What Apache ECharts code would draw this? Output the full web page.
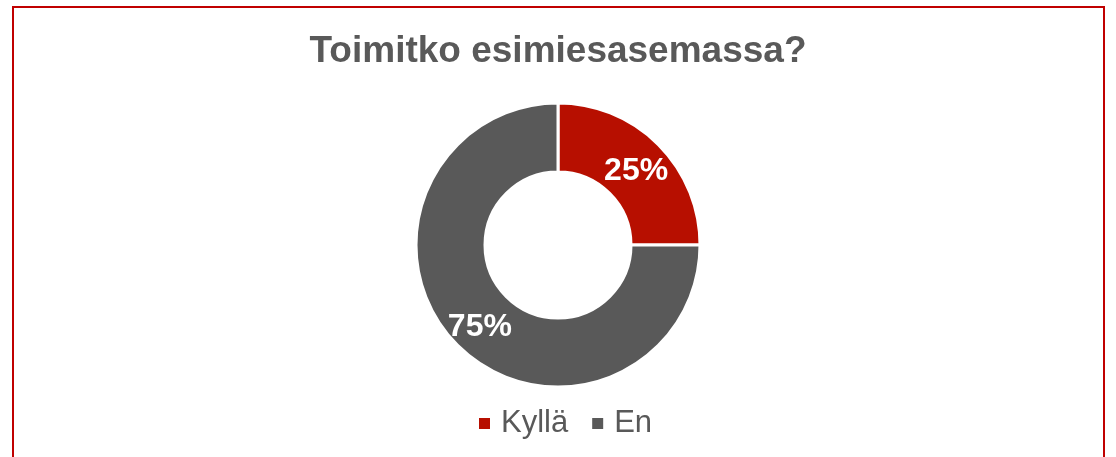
<!DOCTYPE html>
<html>
<head>
<meta charset="utf-8">
<script src="https://cdn.jsdelivr.net/npm/echarts@6/dist/echarts.min.js"></script>
<style>
    html, body { margin: 0; padding: 0; background: #fff; }
    #wrap { position: relative; width: 1116px; height: 457px; overflow: hidden; }
    #chart { position: absolute; left: 0; top: 0; width: 1116px; height: 457px; }
    .frame {
        position: absolute; left: 12px; top: 6px; width: 1089px; height: 470px;
        border: 2px solid #c00000; border-bottom: none; pointer-events: none;
    }
</style>
</head>
<body>
<div id="wrap">
    <div id="chart"></div>
    <div class="frame"></div>
</div>
<script>
const title = 'Toimitko esimiesasemassa?';
const categories = ['Kyllä', 'En'];
const values = [25, 75];
const colors = ['#b70f00', '#595959'];

const chart = echarts.init(document.getElementById('chart'));
chart.setOption({
    title: {
        text: title,
        left: 'center',
        top: 28,
        textStyle: {
            fontFamily: 'Liberation Sans',
            fontSize: 37,
            fontWeight: 'bold',
            color: '#595959',
        },
    },
    legend: {
        bottom: 13,
        left: 472,
        icon: 'rect',
        itemWidth: 13,
        itemHeight: 13,
        itemGap: 22,
        textStyle: {
            fontFamily: 'Liberation Sans',
            fontSize: 31,
            color: '#595959',
            padding: [0, 0, 0, 5],
        },
        data: categories,
    },
    series: [
        {
            type: 'pie',
            center: [558, 245],
            radius: [73, 142],
            startAngle: 90,
            clockwise: true,
            color: colors,
            itemStyle: { borderColor: '#fff', borderWidth: 3 },
            label: {
                show: true,
                position: 'inside',
                formatter: '{c}%',
                color: '#fff',
                fontFamily: 'Liberation Sans',
                fontSize: 32,
                fontWeight: 'bold',
                offset: [0, 4],
            },
            labelLine: { show: false },
            emphasis: { disabled: true },
            data: categories.map((c, i) => ({ name: c, value: values[i] })),
        },
    ],
});
</script>
</body>
</html>
